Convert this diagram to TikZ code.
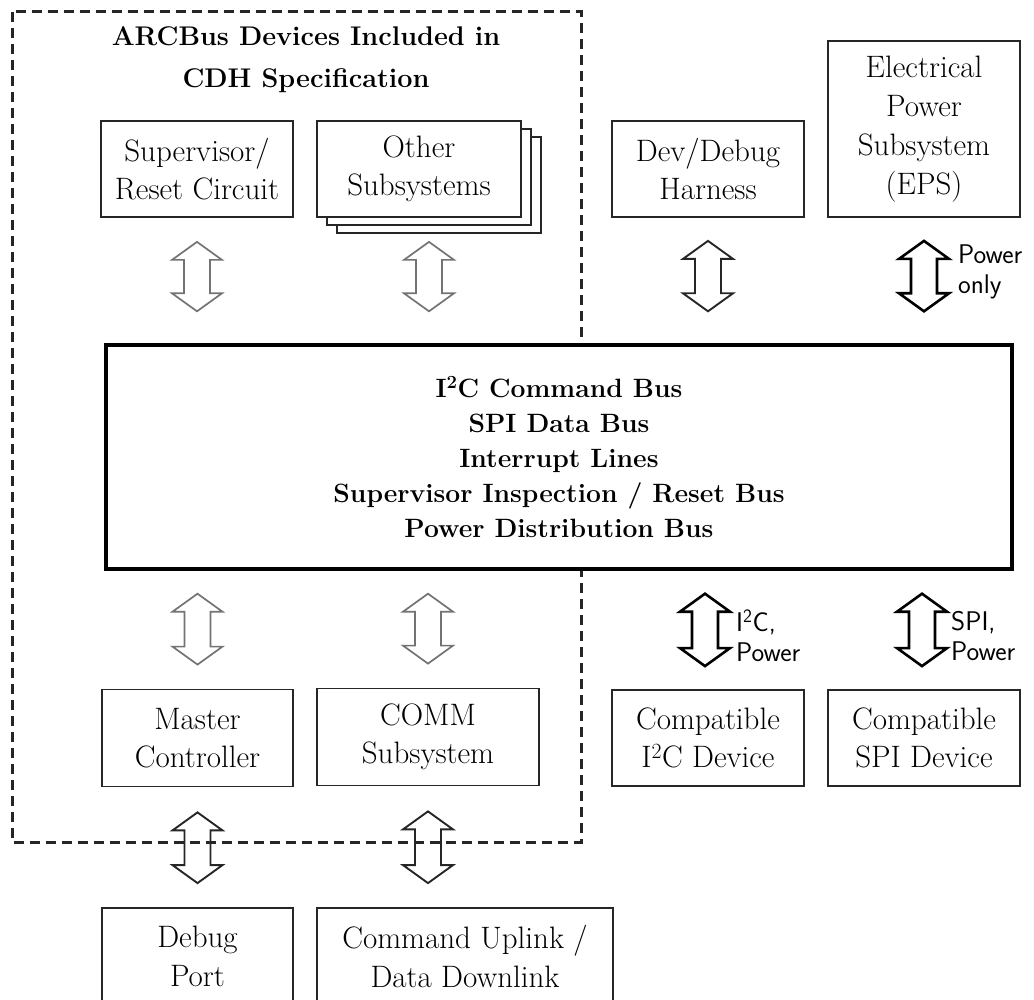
\documentclass[tikz,border=0pt]{standalone}
\usetikzlibrary{calc}
\begin{document}
\begin{tikzpicture}[x=1pt,y=-1pt,
  box/.style={draw=black!85, line width=1.8pt, fill=white, inner sep=0pt, align=center,
    font=\fontsize{31}{38.5}\selectfont},
  arrowshape/.style={to path={let \p1=(\tikztostart), \p2=(\tikztotarget) in
    (\x1,\y1) -- (\x1+25pt,\y1-18pt) -- (\x1+13pt,\y1-18pt) -- (\x1+13pt,\y2+18pt)
    -- (\x1+25pt,\y2+18pt) -- (\x1,\y2) -- (\x1-25pt,\y2+18pt) -- (\x1-13pt,\y2+18pt)
    -- (\x1-13pt,\y1-18pt) -- (\x1-25pt,\y1-18pt) -- cycle}},
  greyarrow/.style={arrowshape, draw=black!55, line width=1.7pt, line join=miter},
  darkarrow/.style={arrowshape, draw=black!85, line width=1.9pt, line join=miter},
  thickarrow/.style={arrowshape, draw=black, line width=2.6pt, line join=miter},
  lbl/.style={anchor=west, align=left, inner sep=0pt, font=\sffamily\fontsize{27}{30}\selectfont},
  dashbox/.style={draw=black!85, line width=3pt, dash pattern=on 10pt off 6pt},
]
\clip (0,0) rectangle (1034,1000);
\fill[white] (0,0) rectangle (1034,1000);

% dashed region
\draw[dashbox] (12,12) rectangle (581,842);
\node[font=\bfseries\fontsize{27}{42}\selectfont, align=center] (title) at (306,60)
  {ARCBus Devices Included in\\CDH Specification};

% top row
\node[box, minimum width=192, minimum height=96] (sup) at (197,169) {Supervisor/\\Reset Circuit};
\node[box, minimum width=204, minimum height=96] (oth3) at (439,185) {};
\node[box, minimum width=204, minimum height=96] (oth2) at (429,177) {};
\node[box, minimum width=204, minimum height=96] (oth) at (419,169) {Other\\Subsystems};
\node[box, minimum width=192, minimum height=96] (dev) at (708,169) {Dev/Debug\\Harness};
\node[box, minimum width=192, minimum height=176, font=\fontsize{31}{39}\selectfont] (eps) at (924,129) {Electrical\\Power\\Subsystem\\(EPS)};

% bus
\node[draw=black, line width=3.4pt, fill=white, inner sep=0pt, align=center,
  minimum width=906, minimum height=224, font=\bfseries\fontsize{26.5}{35}\selectfont] (bus) at (559,457)
  {I\textsuperscript{2}C Command Bus\\SPI Data Bus\\Interrupt Lines\\Supervisor Inspection / Reset Bus\\Power Distribution Bus};

% lower row
\node[box, minimum width=191, minimum height=97] (mc) at (197.5,738) {Master\\Controller};
\node[box, minimum width=222, minimum height=97] (comm) at (428,737) {COMM\\Subsystem};
\node[box, minimum width=192, minimum height=96] (ci2c) at (708,738) {Compatible\\I\textsuperscript{2}C Device};
\node[box, minimum width=192, minimum height=96] (cspi) at (924,738) {Compatible\\SPI Device};

% bottom row
\node[box, minimum width=191, minimum height=97] (dbg) at (197.5,956.5) {Debug\\Port};
\node[box, minimum width=296, minimum height=97] (cul) at (465,956.5) {Command Uplink /\\Data Downlink};

% connectors
\coordinate (othc) at ($(oth.south)!0.5!(oth3.south)$);
\draw[greyarrow] ($(sup.south)+(0,24)$) to ($(sup.south|-bus.north)+(0,-32)$);
\draw[greyarrow] ($(othc|-sup.south)+(0,24)$) to ($(othc|-bus.north)+(0,-32)$);
\draw[darkarrow] ($(dev.south)+(0,23)$) to ($(dev.south|-bus.north)+(0,-32)$);
\draw[thickarrow] ($(eps.south)+(0,23)$) to ($(eps.south|-bus.north)+(0,-32)$);

\draw[greyarrow] ($(mc.north|-bus.south)+(0,23)$) to ($(mc.north)+(0,-24)$);
\draw[greyarrow] ($(comm.north|-bus.south)+(0,23)$) to ($(comm.north)+(0,-24)$);
\draw[thickarrow] ($(ci2c.north|-bus.south)+(-3,23)$) to ($(ci2c.north)+(-3,-23)$);
\draw[thickarrow] ($(cspi.north|-bus.south)+(-2,23)$) to ($(cspi.north)+(-2,-23)$);

\draw[darkarrow] ($(mc.south)+(0,25)$) to ($(dbg.north)+(0,-24)$);
\draw[darkarrow] ($(comm.south)+(0,25)$) to ($(comm.south|-cul.north)+(0,-24)$);

% labels
\node[lbl] (lpow) at (958,272) {Power\\only};
\node[lbl] (li2c) at (736,636) {I\textsuperscript{2}C,\\Power};
\node[lbl] (lspi) at (951,636) {SPI,\\Power};
\end{tikzpicture}
\end{document}
